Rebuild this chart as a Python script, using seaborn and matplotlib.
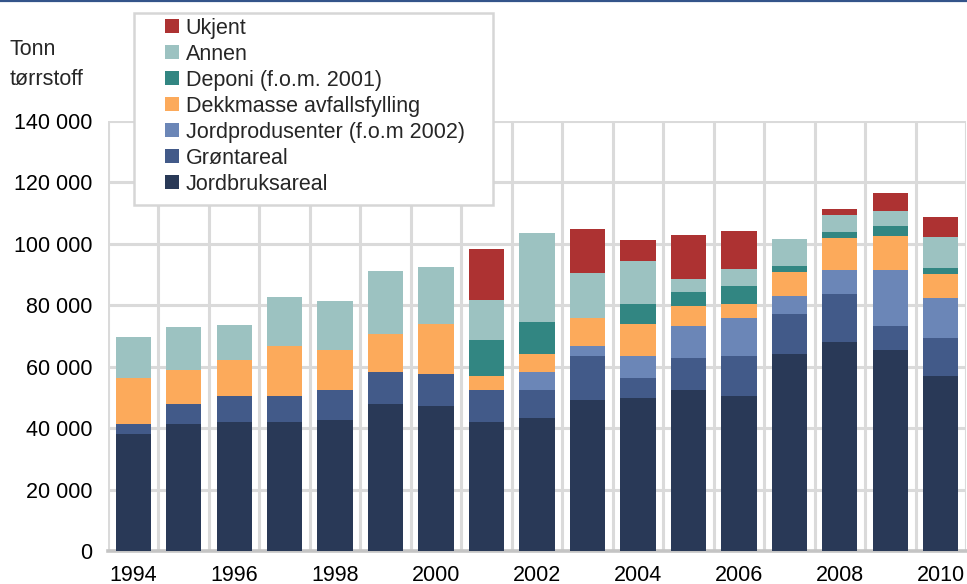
import numpy as np
import seaborn as sns
import matplotlib.pyplot as plt
from matplotlib.patches import Patch, Rectangle
from matplotlib.lines import Line2D
from matplotlib.ticker import FuncFormatter

# Avløpsslam disponert, tonn tørrstoff
years = [str(y) for y in range(1994, 2011)]
jordbruksareal = [38100, 41300, 42000, 42000, 42600, 47900, 47200, 42000, 43300,
                  49200, 49800, 52400, 50500, 64100, 68000, 65400, 57000]
grontareal = [3200, 6600, 8500, 8500, 9800, 10400, 10400, 10400, 9100,
              14300, 6500, 10400, 13000, 13100, 15700, 7900, 12300]
jordprodusenter = [0, 0, 0, 0, 0, 0, 0, 0, 5900,
                   3200, 7200, 10500, 12400, 5800, 7800, 18200, 13100]
dekkmasse = [15100, 11100, 11800, 16400, 13100, 12500, 16400, 4600, 5800,
             9200, 10400, 6500, 4500, 7800, 10400, 11100, 7800]
deponi = [0, 0, 0, 0, 0, 0, 0, 11700, 10500,
          0, 6500, 4500, 5900, 2000, 2000, 3200, 1900]
annen = [13200, 13900, 11300, 15800, 15900, 20400, 18500, 12900, 28900,
         14700, 14100, 4400, 5600, 8800, 5600, 5000, 10200]
ukjent = [0, 0, 0, 0, 0, 0, 0, 16800, 0,
          14200, 6700, 14300, 12400, 0, 1900, 5900, 6500]

layers = [
    ("Jordbruksareal", jordbruksareal, "#293957"),
    ("Grøntareal", grontareal, "#425a89"),
    ("Jordprodusenter (f.o.m 2002)", jordprodusenter, "#6b86b7"),
    ("Dekkmasse avfallsfylling", dekkmasse, "#fcaa5b"),
    ("Deponi (f.o.m. 2001)", deponi, "#328682"),
    ("Annen", annen, "#9cc2c1"),
    ("Ukjent", ukjent, "#ad3232"),
]

sns.set_style("white")
plt.rcParams['font.family'] = ['Liberation Sans', 'DejaVu Sans']
fs = 15.5

fig = plt.figure(figsize=(9.67, 5.84), dpi=100)
ax = fig.add_axes([108 / 967, 33 / 584, 858 / 967, 430 / 584])

# stacked bars: draw cumulative totals from the top layer down
cums = np.cumsum([np.array(v) for _, v, _ in layers], axis=0)
for i in range(len(layers) - 1, -1, -1):
    name, _, col = layers[i]
    sns.barplot(x=years, y=cums[i], color=col, saturation=1, width=0.7,
                errorbar=None, linewidth=0, ax=ax, zorder=3)

ax.set_xlim(-0.5, 16.5)
ax.set_ylim(0, 140000)
ax.set_yticks(range(0, 140001, 20000))
ax.yaxis.set_major_formatter(FuncFormatter(lambda v, p: f"{int(v):,}".replace(",", " ")))
ax.set_xticks(range(0, 17, 2))
ax.set_xticklabels(years[::2])
ax.set_xticks(np.arange(-0.5, 17, 1), minor=True)
ax.set_xlabel("")
ax.set_ylabel("")
ax.tick_params(axis='both', which='both', length=0, labelsize=fs, colors='black')
ax.tick_params(axis='y', pad=11)
ax.tick_params(axis='x', pad=10)

ax.set_axisbelow(True)
ax.grid(False)
ax.yaxis.grid(True, which='major', color='#dadada', lw=2.2)
ax.xaxis.grid(True, which='minor', color='#dadada', lw=2.2)
for s in ['left', 'right', 'top']:
    ax.spines[s].set_visible(False)
ax.spines['bottom'].set_color('#c4c4c4')
ax.spines['bottom'].set_linewidth(2.6)

fig.text(10 / 967, 1 - 55 / 584, "Tonn", fontsize=fs, va='baseline')
fig.text(10 / 967, 1 - 85 / 584, "tørrstoff", fontsize=fs, va='baseline')

# legend box
fig.add_artist(Rectangle((134 / 967, 1 - 205 / 584), 359 / 967, 192 / 584,
                         transform=fig.transFigure, facecolor='white',
                         edgecolor='#d6d6d6', lw=1.8, zorder=5))
handles = [Patch(facecolor=c, edgecolor='none', label=n) for n, _, c in layers[::-1]]
leg = fig.legend(handles=handles, loc='upper left',
                 bbox_to_anchor=(165 / 967, 1 - 18 / 584), frameon=False,
                 borderpad=0, borderaxespad=0, handlelength=0.63, handleheight=0.63,
                 handletextpad=0.33, labelspacing=0.23, fontsize=fs)
leg.set_zorder(6)

fig.add_artist(Line2D([0, 1], [1 - 1 / 584] * 2, transform=fig.transFigure,
                      color='#34548a', lw=1.6))

fig.savefig("out.png", dpi=100)
